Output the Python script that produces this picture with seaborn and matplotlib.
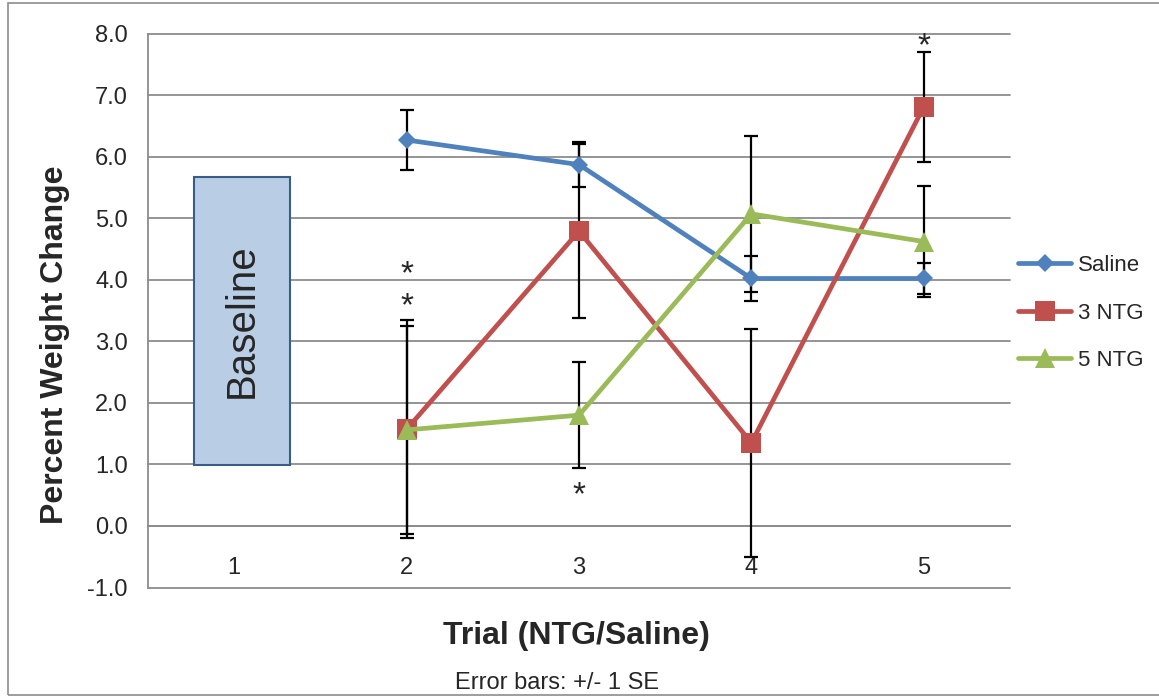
import numpy as np
import pandas as pd
import matplotlib
matplotlib.use("Agg")
import matplotlib.pyplot as plt
import matplotlib.transforms as mtransforms
from matplotlib.patches import Rectangle
import seaborn as sns

# ---------------- data ----------------
trials = [2, 3, 4, 5]
categories = ["1", "2", "3", "4", "5"]
saline = [6.27, 5.87, 4.02, 4.02]
saline_se = [0.49, 0.36, 0.36, 0.25]
ntg3 = [1.57, 4.79, 1.35, 6.81]
ntg3_se = [1.77, 1.41, 1.85, 0.89]
ntg5 = [1.56, 1.80, 5.07, 4.62]
ntg5_se = [1.69, 0.86, 1.27, 0.90]
baseline_low = 0.99
baseline_high = 5.67
star_x = [2, 2, 3, 5]
star_y = [4.12, 3.71, 0.59, 7.88]
yticks = [-1.0, 0.0, 1.0, 2.0, 3.0, 4.0, 5.0, 6.0, 7.0, 8.0]

sns.set_style("white")
plt.rcParams["font.family"] = ["Liberation Sans", "DejaVu Sans"]

W, H = 1159, 698
fig = plt.figure(figsize=(W / 100, H / 100), dpi=100)
ax = fig.add_axes([148 / W, 1 - 587.5 / H, 862 / W, 554 / H])

grid_c = "#8C8C8C"
series = [
    ("Saline", saline, saline_se, "#4F81BD", "D", 9.5),
    ("3 NTG", ntg3, ntg3_se, "#C0504D", "s", 14),
    ("5 NTG", ntg5, ntg5_se, "#9BBB59", "^", 14),
]

ax.set_xlim(0.5, 5.5)
ax.set_ylim(-1.0, 8.0)

# baseline box
ax.bar([1.046], [baseline_high - baseline_low], bottom=baseline_low, width=0.557,
       color="#B9CDE5", edgecolor="#385D8A", linewidth=1.5, zorder=2)
ax.text(1.046, (baseline_low + baseline_high) / 2, "Baseline", rotation=90,
        ha="center", va="center", fontsize=29, zorder=3)

for name, vals, se, col, mk, ms in series:
    ax.errorbar(trials, vals, yerr=se, fmt="none", ecolor="black", elinewidth=1.6,
                capsize=4.7, capthick=1.6, zorder=3)
    df = pd.DataFrame({"trial": trials, "value": vals})
    sns.lineplot(data=df, x="trial", y="value", ax=ax, color=col, marker=mk,
                 markersize=ms, markeredgewidth=0, linewidth=3.4, errorbar=None,
                 label=name, zorder=4)

ax.set_xlim(0.5, 5.5)
ax.set_ylim(-1.0, 8.0)

# asterisks (stacked ones at the same trial drawn as one text)
star_fs = 24
off = mtransforms.offset_copy(ax.transData, fig=fig, x=0, y=-4.5, units="points")
px_per_unit = 554 / 9.0
em_px = star_fs * 100 / 72
for sx in sorted(set(star_x)):
    ys = sorted([y for x, y in zip(star_x, star_y) if x == sx], reverse=True)
    n = len(ys)
    if n > 1:
        gap_px = (ys[0] - ys[-1]) / (n - 1) * px_per_unit
        ls = gap_px / (0.729 * em_px)
    else:
        ls = 1.0
    ax.text(sx, float(np.mean(ys)), "\n".join(["*"] * n), ha="center", va="center",
            fontsize=star_fs, linespacing=ls, transform=off, zorder=5)

# axes
ax.set_yticks(yticks)
ax.set_yticklabels([f"{v:.1f}" for v in yticks])
ax.yaxis.grid(True, color=grid_c, linewidth=1.3)
ax.set_axisbelow(True)
for gl in ax.get_ygridlines():
    gl.set_clip_on(False)

ax.set_xticks([1.5, 2.5, 3.5, 4.5, 5.5])
ax.set_xticklabels([])
ax.set_xticks([1, 2, 3, 4, 5], minor=True)
ax.set_xticklabels(categories, minor=True)
ax.tick_params(axis="x", which="major", length=6, width=1.3, color=grid_c, direction="out")
ax.tick_params(axis="x", which="minor", length=0, pad=22, labelsize=17)
ax.tick_params(axis="y", length=6, width=1.3, color=grid_c, direction="out",
               pad=8.5, labelsize=17)

for s in ["top", "right"]:
    ax.spines[s].set_visible(False)
ax.spines["left"].set_color(grid_c)
ax.spines["left"].set_linewidth(1.3)
ax.spines["bottom"].set_position(("data", 0))
ax.spines["bottom"].set_color(grid_c)
ax.spines["bottom"].set_linewidth(1.3)

ax.set_ylabel("Percent Weight Change", fontsize=23, fontweight="bold")
ax.yaxis.set_label_coords(-0.09, 0.438)
ax.set_xlabel("Trial (NTG/Saline)", fontsize=23, fontweight="bold", va="center")
ax.xaxis.set_label_coords(0.497, -0.087)

leg = ax.legend(loc="center left", bbox_to_anchor=(1018 / W, 1 - 313 / H),
                bbox_transform=fig.transFigure, frameon=False, fontsize=16,
                handlelength=2.4, handletextpad=0.3, labelspacing=1.2,
                borderpad=0, borderaxespad=0)

fig.text(557.5 / W, 1 - 683 / H, "Error bars: +/- 1 SE", ha="center", va="center",
         fontsize=17)

# chart border
fig.patches.append(Rectangle((8 / W, 3 / H), 1.2, 1 - 6 / H, transform=fig.transFigure,
                             fill=False, edgecolor="#8C8C8C", linewidth=1.2))

fig.savefig("out.png", dpi=100)
